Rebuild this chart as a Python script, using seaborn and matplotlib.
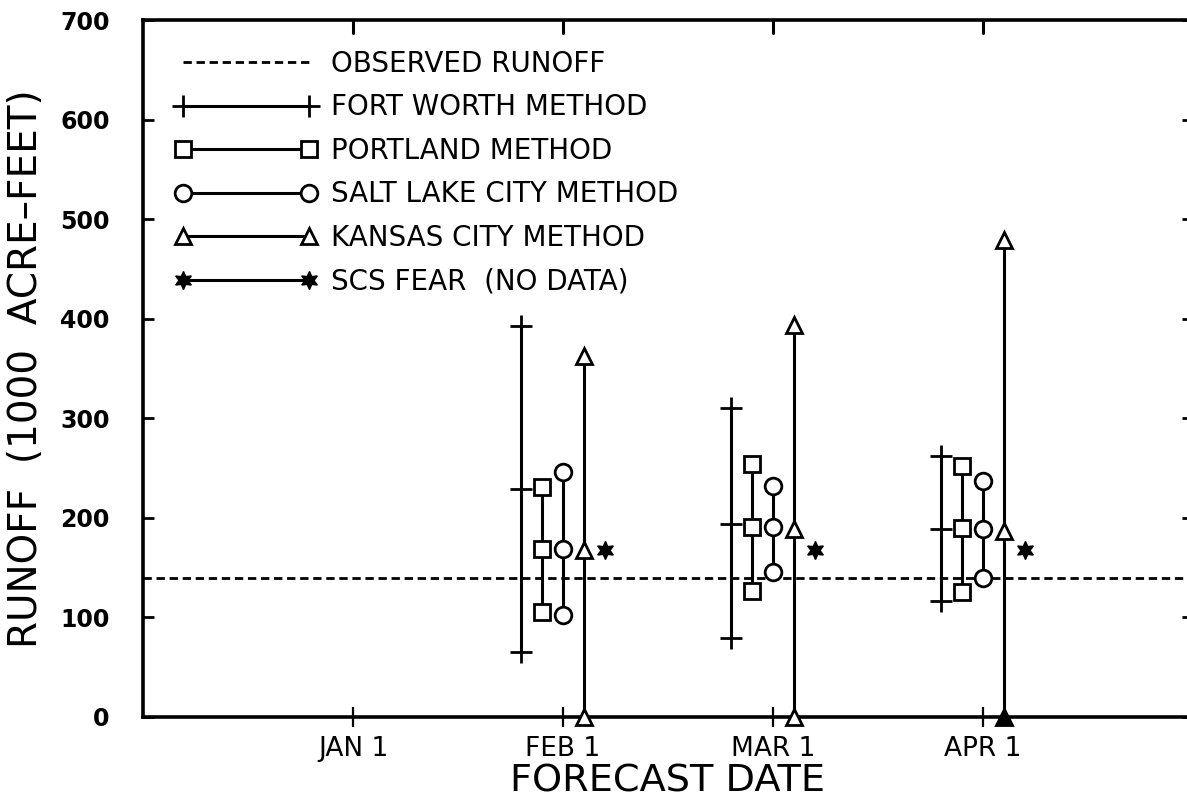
import matplotlib
matplotlib.use('Agg')
import matplotlib.pyplot as plt
from matplotlib.lines import Line2D
import seaborn as sns

# forecast dates as month numbers (Dec 1 = 0)
date_ticks = [1, 2, 3, 4]
date_labels = ['JAN 1', 'FEB 1', 'MAR 1', 'APR 1']
forecast_dates = [2, 3, 4]

observed_runoff = 140

# low / most-probable / high forecasts per method
fw_low = [65, 79, 116]
fw_mid = [229, 194, 189]
fw_high = [393, 310, 262]

po_low = [105, 127, 126]
po_mid = [169, 191, 190]
po_high = [231, 254, 252]

sl_low = [102, 146, 140]
sl_mid = [169, 191, 189]
sl_high = [246, 232, 237]

kc_low = [0, 0, 0]
kc_mid = [168, 189, 187]
kc_high = [363, 394, 479]

scs_mid = [168, 168, 168]

sns.set_style('ticks')
plt.rcParams['font.family'] = ['DejaVu Sans']
for k in ['text.color', 'axes.labelcolor', 'xtick.color', 'ytick.color', 'axes.edgecolor']:
    plt.rcParams[k] = 'black'

narrow = ['Liberation Sans Narrow', 'DejaVu Sans']

fig = plt.figure(figsize=(11.87, 7.98), dpi=100)
ax = fig.add_axes([143 / 1187, 81 / 798, 1050 / 1187, 697 / 798])

lw = 2.2
dash = (0, (3, 1.7))
methods = [
    ('FORT WORTH METHOD', fw_low, fw_mid, fw_high, -0.2,
     dict(marker='+', markersize=16, markeredgewidth=2.0)),
    ('PORTLAND METHOD', po_low, po_mid, po_high, -0.1,
     dict(marker='s', markersize=11, markerfacecolor='white', markeredgewidth=2.0)),
    ('SALT LAKE CITY METHOD', sl_low, sl_mid, sl_high, 0.0,
     dict(marker='o', markersize=12, markerfacecolor='white', markeredgewidth=2.0)),
    ('KANSAS CITY METHOD', kc_low, kc_mid, kc_high, 0.1,
     dict(marker='^', markersize=12, markerfacecolor='white', markeredgewidth=2.0)),
]

handles = [Line2D([], [], color='black', lw=2.0, ls=dash)]
labels = ['OBSERVED RUNOFF']

ax.axhline(observed_runoff, color='black', lw=2.0, ls=dash, zorder=1)

for name, lo, mid, hi, off, mstyle in methods:
    for i, d in enumerate(forecast_dates):
        ax.plot([d + off] * 3, [lo[i], mid[i], hi[i]], color='black', lw=lw,
                clip_on=False, zorder=3, **mstyle)
    handles.append(Line2D([], [], color='black', lw=lw, **mstyle))
    labels.append(name)

# the April Kansas City low value shows as a solid triangle
ax.plot([forecast_dates[2] + 0.1], [kc_low[2]], marker='^', markersize=12,
        color='black', clip_on=False, zorder=4)

star = dict(marker=(6, 1, 0), markersize=13)
ax.plot([d + 0.2 for d in forecast_dates], scs_mid, ls='none', color='black', zorder=3, **star)
handles.append(Line2D([], [], color='black', lw=lw, **star))
labels.append('SCS FEAR  (NO DATA)')

ax.set_xlim(0, 5)
ax.set_ylim(0, 700)
ax.set_xticks(date_ticks)
ax.set_xticklabels(date_labels, family=narrow, fontsize=19)
ax.set_yticks(range(0, 701, 100))
ax.set_yticklabels([str(v) for v in range(0, 701, 100)], fontsize=17, fontweight='bold')

ax.tick_params(axis='y', which='both', direction='in', length=8, width=2,
               left=True, right=True, pad=24)
ax.tick_params(axis='x', which='both', direction='inout', length=15, width=1.6,
               top=False, bottom=True, pad=6)
for x in date_ticks:
    ax.plot([x, x], [700, 687], color='black', lw=2.2, clip_on=False, zorder=2)

for s in ax.spines.values():
    s.set_linewidth(2.6)

ax.set_xlabel('FORECAST DATE', fontsize=27.5, labelpad=1, family=narrow)
ax.set_ylabel('RUNOFF  (1000  ACRE\u2013FEET)', fontsize=28, labelpad=11)

leg = ax.legend(handles, labels, loc='upper left', bbox_to_anchor=(0.0195, 0.973),
                frameon=False, numpoints=2, handlelength=5.13, handletextpad=0.5,
                labelspacing=0.557, fontsize=20, borderaxespad=0)

fig.savefig('out.png', dpi=100)
